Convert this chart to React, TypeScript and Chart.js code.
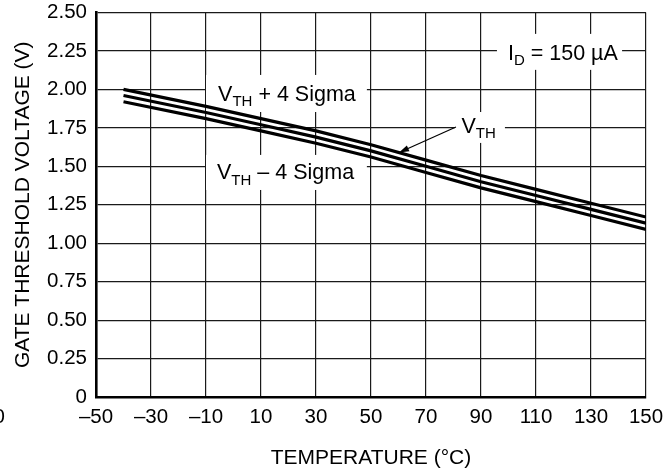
import React, { useEffect, useRef } from "react";
import { Chart, registerables } from "chart.js";

Chart.register(...registerables);

// ---- data ----
const temperatures = [-40, -10, 10, 30, 50, 70, 90, 110, 130, 150];
const vthPlus4Sigma = [2.0, 1.89, 1.81, 1.73, 1.64, 1.54, 1.44, 1.35, 1.26, 1.17];
const vthTypical = [1.96, 1.85, 1.77, 1.69, 1.6, 1.5, 1.4, 1.31, 1.22, 1.13];
const vthMinus4Sigma = [1.92, 1.81, 1.73, 1.65, 1.56, 1.46, 1.36, 1.27, 1.18, 1.09];

const xTickValues = [-50, -30, -10, 10, 30, 50, 70, 90, 110, 130, 150];
const yTickValues = [0, 0.25, 0.5, 0.75, 1.0, 1.25, 1.5, 1.75, 2.0, 2.25, 2.5];

const xTitle = "TEMPERATURE (°C)";
const yTitle = "GATE THRESHOLD VOLTAGE (V)";

const FONT = "'Liberation Sans', Arial, Helvetica, sans-serif";

type Part = { t: string; sub?: boolean };

// annotation labels, in data coordinates (temperature, volts)
const labels: { x: number; y: number; parts: Part[]; box: [number, number, number, number] }[] = [
  {
    x: -5.6, y: 1.925,
    parts: [{ t: "V" }, { t: "TH", sub: true }, { t: " + 4 Sigma" }],
    box: [-10, 2.094, 48.5, 1.853],
  },
  {
    x: -6.0, y: 1.417,
    parts: [{ t: "V" }, { t: "TH", sub: true }, { t: " – 4 Sigma" }],
    box: [-10, 1.574, 48.5, 1.346],
  },
  {
    x: 82.9, y: 1.717,
    parts: [{ t: "V" }, { t: "TH", sub: true }],
    box: [80.5, 1.853, 98.7, 1.652],
  },
  {
    x: 99.8, y: 2.192,
    parts: [{ t: "I" }, { t: "D", sub: true }, { t: " = 150 µA" }],
    box: [95.8, 2.361, 141.3, 2.127],
  },
];

const arrowFrom = { x: 80.9, y: 1.756 };
const arrowTo = { x: 60.2, y: 1.59 };

const annotationPlugin = {
  id: "annotations",
  beforeDatasetsDraw(chart: any) {
    const { ctx, scales } = chart;
    const sx = scales.x, sy = scales.y;
    ctx.save();
    for (const l of labels) {
      const x0 = sx.getPixelForValue(l.box[0]);
      const y0 = sy.getPixelForValue(l.box[1]);
      const x1 = sx.getPixelForValue(l.box[2]);
      const y1 = sy.getPixelForValue(l.box[3]);
      ctx.fillStyle = "#ffffff";
      ctx.fillRect(x0, y0, x1 - x0, y1 - y0);
    }
    ctx.fillStyle = "#000000";
    ctx.textBaseline = "alphabetic";
    ctx.textAlign = "left";
    for (const l of labels) {
      let x = sx.getPixelForValue(l.x);
      const y = sy.getPixelForValue(l.y);
      for (const p of l.parts) {
        if (p.sub) {
          ctx.font = `15px ${FONT}`;
          ctx.fillText(p.t, x, y + 5.5);
        } else {
          ctx.font = `21.5px ${FONT}`;
          ctx.fillText(p.t, x, y);
        }
        x += ctx.measureText(p.t).width;
      }
    }
    // stray "0" at the far left of the tick row
    ctx.font = `20.5px ${FONT}`;
    ctx.textAlign = "right";
    ctx.textBaseline = "middle";
    ctx.fillText("0", 5, chart.chartArea.bottom + 20);
    ctx.restore();
  },
  afterDatasetsDraw(chart: any) {
    const { ctx, scales } = chart;
    const sx = scales.x, sy = scales.y;
    const ax = sx.getPixelForValue(arrowFrom.x);
    const ay = sy.getPixelForValue(arrowFrom.y);
    const bx = sx.getPixelForValue(arrowTo.x);
    const by = sy.getPixelForValue(arrowTo.y);
    const ang = Math.atan2(by - ay, bx - ax);
    const len = 10, half = 3.2;
    ctx.save();
    ctx.strokeStyle = "#000";
    ctx.fillStyle = "#000";
    ctx.lineWidth = 1.2;
    ctx.beginPath();
    ctx.moveTo(ax, ay);
    ctx.lineTo(bx - Math.cos(ang) * len * 0.8, by - Math.sin(ang) * len * 0.8);
    ctx.stroke();
    const baseX = bx - Math.cos(ang) * len;
    const baseY = by - Math.sin(ang) * len;
    ctx.beginPath();
    ctx.moveTo(bx, by);
    ctx.lineTo(baseX + Math.sin(ang) * half, baseY - Math.cos(ang) * half);
    ctx.lineTo(baseX - Math.sin(ang) * half, baseY + Math.cos(ang) * half);
    ctx.closePath();
    ctx.fill();
    ctx.restore();
  },
};

function series(values: number[]) {
  return temperatures.map((t, i) => ({ x: t, y: values[i] }));
}

export default function App() {
  const canvasRef = useRef<HTMLCanvasElement | null>(null);

  useEffect(() => {
    const canvas = canvasRef.current;
    if (!canvas) return;
    const lineStyle = {
      borderColor: "#000000",
      borderWidth: 3.2,
      pointRadius: 0,
      tension: 0,
      fill: false,
    };
    const chart = new Chart(canvas, {
      type: "line",
      data: {
        datasets: [
          { label: "VTH + 4 Sigma", data: series(vthPlus4Sigma), ...lineStyle },
          { label: "VTH", data: series(vthTypical), ...lineStyle },
          { label: "VTH - 4 Sigma", data: series(vthMinus4Sigma), ...lineStyle },
        ],
      },
      options: {
        responsive: false,
        animation: false,
        devicePixelRatio: 1,
        layout: { padding: { left: 0, right: 22, top: 12.5, bottom: 0 } },
        plugins: {
          legend: { display: false },
          tooltip: { enabled: false },
        },
        scales: {
          x: {
            type: "linear",
            min: -50,
            max: 150,
            afterBuildTicks: (s: any) => {
              s.ticks = xTickValues.map((v) => ({ value: v }));
            },
            afterFit: (s: any) => {
              s.height = 77;
              s.paddingLeft = 0;
              s.paddingRight = 0;
            },
            ticks: {
              autoSkip: false,
              maxRotation: 0,
              padding: 8,
              color: "#000",
              font: { family: FONT, size: 20.5 },
              callback: (v: any) => (v < 0 ? "–" + Math.abs(v) : String(v)),
            },
            grid: { color: "#1a1a1a", lineWidth: 1.2, drawTicks: false },
            border: { display: true, color: "#000", width: 2.6 },
            title: {
              display: true,
              text: xTitle,
              color: "#000",
              font: { family: FONT, size: 21 },
              padding: { top: 0, bottom: 3 },
            },
          },
          y: {
            type: "linear",
            min: 0,
            max: 2.5,
            afterBuildTicks: (s: any) => {
              s.ticks = yTickValues.map((v) => ({ value: v }));
            },
            afterFit: (s: any) => {
              s.width = 96;
              s.paddingTop = 0;
              s.paddingBottom = 0;
            },
            ticks: {
              autoSkip: false,
              padding: 9,
              color: "#000",
              font: { family: FONT, size: 20.5 },
              callback: (v: any) => (v === 0 ? "0" : Number(v).toFixed(2)),
            },
            grid: { color: "#1a1a1a", lineWidth: 1.2, drawTicks: false },
            border: { display: true, color: "#000", width: 2.6 },
            title: {
              display: true,
              text: yTitle,
              color: "#000",
              font: { family: FONT, size: 21 },
              padding: { top: 11, bottom: 0 },
            },
          },
        },
      },
      plugins: [annotationPlugin],
    } as any);
    return () => chart.destroy();
  }, []);

  return (
    <div style={{ position: "absolute", left: 0, top: 0, width: 668, height: 474, background: "#fff" }}>
      <canvas ref={canvasRef} width={668} height={474} style={{ width: 668, height: 474, display: "block" }} />
    </div>
  );
}
